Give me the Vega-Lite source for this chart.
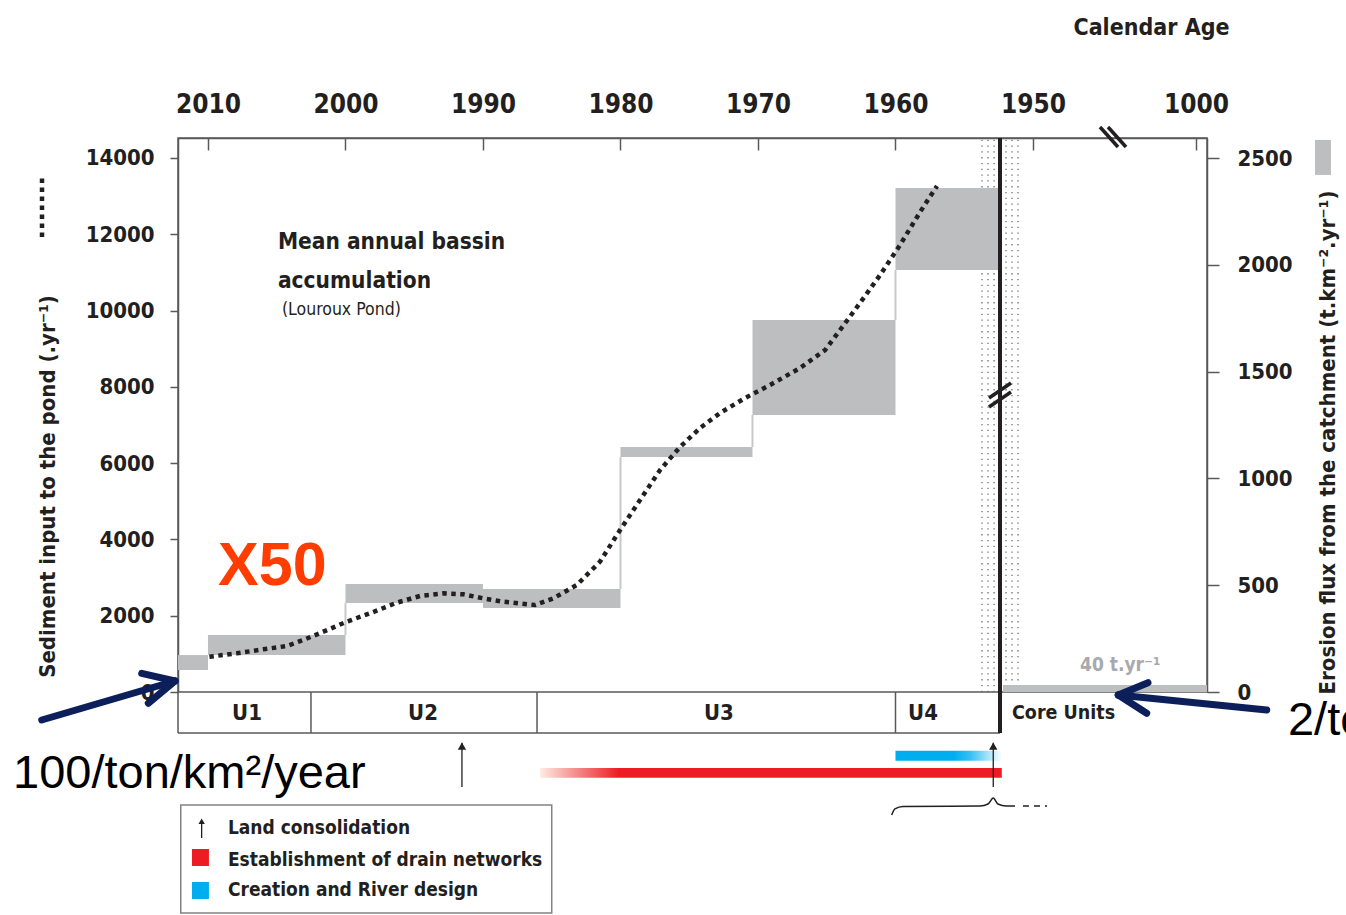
{
  "$schema": "https://vega.github.io/schema/vega-lite/v6.json",
  "width": 1029,
  "height": 554,
  "autosize": {"type": "none"},
  "padding": {"left": 178, "top": 138, "right": 139, "bottom": 223},
  "background": "white",
  "config": {"view": {"stroke": "#58595b", "strokeWidth": 1.5}, "axis": {"grid": false}},
  "encoding": {
    "x": {
      "field": "x", "type": "quantitative",
      "scale": {"domain": [2012.18, 1950, 1000, 990], "range": [0, 855, 1018, 1029], "zero": false, "nice": false},
      "axis": {
        "orient": "top", "values": [2010, 2000, 1990, 1980, 1970, 1960, 1950, 1000], "format": "d",
        "tickSize": -12, "tickWidth": 1.5, "tickColor": "#58595b", "domainColor": "#58595b", "domainWidth": 1.5,
        "labelPadding": 33, "labelFont": "Liberation Sans Narrow, DejaVu Sans Condensed, sans-serif", "labelFontWeight": "bold",
        "labelFontSize": 26, "labelColor": "#231f20", "labelFlush": false, "labelOverlap": false,
        "title": "Calendar Age", "titleFont": "Liberation Sans Narrow, DejaVu Sans Condensed, sans-serif", "titleFontSize": 23,
        "titleFontWeight": "bold", "titleColor": "#231f20", "titleX": 973, "titleY": -111, "titleAlign": "center", "titleBaseline": "middle"
      }
    }
  },
  "resolve": {"scale": {"y": "independent"}, "axis": {"y": "independent"}},
  "layer": [
    {
      "encoding": {
        "y": {
          "field": "y", "type": "quantitative",
          "scale": {"domain": [0, 2594], "zero": false, "nice": false},
          "axis": {
            "orient": "right", "values": [0, 500, 1000, 1500, 2000, 2500], "format": "d",
            "tickSize": 12, "tickWidth": 1.5, "tickColor": "#58595b", "domainColor": "#58595b", "domainWidth": 1.5,
            "labelPadding": 18, "labelFont": "Liberation Sans Narrow, DejaVu Sans Condensed, sans-serif", "labelFontWeight": "bold",
            "labelFontSize": 22, "labelColor": "#231f20", "labelFlush": false,
            "title": "Erosion flux from the catchment (t.km⁻².yr⁻¹)", "titleFont": "Liberation Sans Narrow, DejaVu Sans Condensed, sans-serif",
            "titleFontSize": 22, "titleFontWeight": "bold", "titleColor": "#231f20", "titleAngle": 270,
            "titleX": 120, "titleY": 304, "titleAlign": "center", "titleBaseline": "middle"
          }
        }
      },
      "layer": [
        {
          "data": {"values": [
            {"x": 1953.71, "y": 0, "y2": 2594}, {"x": 1953.27, "y": 0, "y2": 2594}, {"x": 1952.83, "y": 0, "y2": 2594},
            {"x": 1951.96, "y": 0, "y2": 2594}, {"x": 1951.53, "y": 0, "y2": 2594}, {"x": 1951.09, "y": 0, "y2": 2594}
          ]},
          "mark": {"type": "rule", "stroke": "#6d6e71", "strokeWidth": 1.3, "strokeDash": [1.3, 4.5]},
          "encoding": {"y2": {"field": "y2"}}
        },
        {
          "data": {"values": [
            {"x": 2012.18, "x2": 2010, "y": 103, "y2": 173},
            {"x": 2010, "x2": 2000, "y": 173, "y2": 267},
            {"x": 2000, "x2": 1990, "y": 417, "y2": 506},
            {"x": 1990, "x2": 1980, "y": 393, "y2": 482},
            {"x": 1980, "x2": 1970.4, "y": 1100, "y2": 1147},
            {"x": 1970.4, "x2": 1960, "y": 1297, "y2": 1742},
            {"x": 1960, "x2": 1952.4, "y": 1976, "y2": 2360},
            {"x": 1952.18, "x2": 990, "y": 0, "y2": 33},
            {"x": 891.8, "x2": 877.3, "y": 2421, "y2": 2585}
          ]},
          "mark": {"type": "rect", "fill": "#bcbec0"},
          "encoding": {"x2": {"field": "x2"}, "y2": {"field": "y2"}}
        },
        {
          "data": {"values": [
            {"x": 2000, "y": 267, "y2": 417},
            {"x": 1980, "y": 482, "y2": 1100},
            {"x": 1970.4, "y": 1147, "y2": 1297},
            {"x": 1960, "y": 1742, "y2": 1976}
          ]},
          "mark": {"type": "rule", "stroke": "#c7c8ca", "strokeWidth": 2},
          "encoding": {"y2": {"field": "y2"}}
        }
      ]
    },
    {
      "encoding": {
        "y": {
          "field": "y", "type": "quantitative",
          "scale": {"domain": [0, 14524], "zero": false, "nice": false},
          "axis": {
            "orient": "left", "values": [0, 2000, 4000, 6000, 8000, 10000, 12000, 14000], "format": "d",
            "tickSize": 8, "tickWidth": 1.5, "tickColor": "#58595b", "domainColor": "#58595b", "domainWidth": 1.5,
            "labelPadding": 16, "labelFont": "Liberation Sans Narrow, DejaVu Sans Condensed, sans-serif", "labelFontWeight": "bold",
            "labelFontSize": 22, "labelColor": "#231f20", "labelFlush": false,
            "title": "Sediment input to the pond  (.yr⁻¹)", "titleFont": "Liberation Sans Narrow, DejaVu Sans Condensed, sans-serif",
            "titleFontSize": 22, "titleFontWeight": "bold", "titleColor": "#231f20", "titleAngle": 270,
            "titleX": -131, "titleY": 348, "titleAlign": "center", "titleBaseline": "middle"
          }
        }
      },
      "layer": [
        {
          "data": {"values": [
            {"x": 2009.90, "y": 925}, {"x": 2007.91, "y": 1014}, {"x": 2005.98, "y": 1119}, {"x": 2004.27, "y": 1206},
            {"x": 2003.07, "y": 1363}, {"x": 2001.61, "y": 1581}, {"x": 1999.91, "y": 1843}, {"x": 1998.22, "y": 2063},
            {"x": 1996.27, "y": 2341}, {"x": 1994.58, "y": 2517}, {"x": 1992.89, "y": 2587}, {"x": 1991.43, "y": 2561},
            {"x": 1989.98, "y": 2456}, {"x": 1988.52, "y": 2367}, {"x": 1986.22, "y": 2281}, {"x": 1984.88, "y": 2457},
            {"x": 1983.18, "y": 2805}, {"x": 1981.49, "y": 3416}, {"x": 1980.03, "y": 4247}, {"x": 1978.58, "y": 5034},
            {"x": 1977.12, "y": 5820}, {"x": 1975.67, "y": 6423}, {"x": 1974.21, "y": 6921}, {"x": 1972.76, "y": 7315},
            {"x": 1970.94, "y": 7708}, {"x": 1969.12, "y": 8049}, {"x": 1966.94, "y": 8494}, {"x": 1965.12, "y": 8966},
            {"x": 1964.03, "y": 9491}, {"x": 1962.58, "y": 10199}, {"x": 1961.12, "y": 10932}, {"x": 1959.67, "y": 11719},
            {"x": 1958.21, "y": 12584}, {"x": 1956.98, "y": 13266}
          ]},
          "mark": {"type": "line", "stroke": "#231f20", "strokeWidth": 4.5, "strokeDash": [4.5, 4.5]},
          "encoding": {}
        },
        {
          "data": {"values": [{"x": 2022.07, "y": 11929, "y2": 13476}]},
          "mark": {"type": "rule", "stroke": "#231f20", "strokeWidth": 4.5, "strokeDash": [4.5, 4.5]},
          "encoding": {"y2": {"field": "y2"}}
        },
        {
          "data": {"values": [
            {"x": 2012.18, "x2": 1952.4, "y": -1075, "y2": -1075},
            {"x": 2012.18, "x2": 2012.18, "y": 0, "y2": -1075},
            {"x": 2002.51, "x2": 2002.51, "y": 0, "y2": -1075},
            {"x": 1986.07, "x2": 1986.07, "y": 0, "y2": -1075},
            {"x": 1960, "x2": 1960, "y": 0, "y2": -1075}
          ]},
          "mark": {"type": "rule", "stroke": "#58595b", "strokeWidth": 1.5},
          "encoding": {"x2": {"field": "x2"}, "y2": {"field": "y2"}}
        },
        {
          "data": {"values": [{"x": 1952.4, "y": 14524, "y2": -1075}]},
          "mark": {"type": "rule", "stroke": "#231f20", "strokeWidth": 4},
          "encoding": {"y2": {"field": "y2"}}
        },
        {
          "data": {"values": [
            {"x": 1953.2, "y": 7708, "x2": 1951.6, "y2": 8101},
            {"x": 1953.2, "y": 7472, "x2": 1951.6, "y2": 7865},
            {"x": 1559.5, "y": 14813, "x2": 1454.6, "y2": 14289},
            {"x": 1512.9, "y": 14813, "x2": 1407.9, "y2": 14289}
          ]},
          "mark": {"type": "rule", "stroke": "#231f20", "strokeWidth": 3.5},
          "encoding": {"x2": {"field": "x2"}, "y2": {"field": "y2"}}
        },
        {
          "data": {"values": [
            {"x": 2007.16, "y": -551, "t": "U1"}, {"x": 1994.36, "y": -551, "t": "U2"},
            {"x": 1972.85, "y": -551, "t": "U3"}, {"x": 1958.0, "y": -551, "t": "U4"}
          ]},
          "mark": {"type": "text", "font": "Liberation Sans Narrow, DejaVu Sans Condensed, sans-serif", "fontWeight": "bold", "fontSize": 22, "color": "#231f20", "align": "center", "baseline": "middle"},
          "encoding": {"text": {"field": "t"}}
        },
        {
          "data": {"values": [{"x": 1951.53, "y": -551, "t": "Core Units"}]},
          "mark": {"type": "text", "font": "Liberation Sans Narrow, DejaVu Sans Condensed, sans-serif", "fontWeight": "bold", "fontSize": 19.5, "color": "#231f20", "align": "left", "baseline": "middle"},
          "encoding": {"text": {"field": "t"}}
        },
        {
          "data": {"values": [{"x": 1985.85, "x2": 1952.27, "y": -1992, "y2": -2247}]},
          "mark": {"type": "rect", "fill": {"gradient": "linear", "stops": [{"offset": 0, "color": "#fdece4"}, {"offset": 0.17, "color": "#ed1c24"}, {"offset": 1, "color": "#ed1c24"}]}},
          "encoding": {"x2": {"field": "x2"}, "y2": {"field": "y2"}}
        },
        {
          "data": {"values": [{"x": 1960, "x2": 1952.27, "y": -1539, "y2": -1801}]},
          "mark": {"type": "rect", "fill": {"gradient": "linear", "stops": [{"offset": 0, "color": "#00aeef"}, {"offset": 0.55, "color": "#00aeef"}, {"offset": 0.7, "color": "#33c0f2"}, {"offset": 1, "color": "#ffffff"}]}},
          "encoding": {"x2": {"field": "x2"}, "y2": {"field": "y2"}}
        },
        {
          "data": {"values": [
            {"x": 1991.53, "y": -2491, "y2": -1330},
            {"x": 1952.89, "y": -2491, "y2": -1330}
          ]},
          "mark": {"type": "rule", "stroke": "#231f20", "strokeWidth": 1.3},
          "encoding": {"y2": {"field": "y2"}}
        },
        {
          "data": {"values": [{"x": 1991.53, "y": -1420}, {"x": 1952.89, "y": -1420}]},
          "mark": {"type": "point", "shape": "triangle-up", "filled": true, "size": 70, "color": "#231f20", "opacity": 1},
          "encoding": {}
        },
        {
          "data": {"values": [{"x": 2010.46, "y": -3390}]},
          "mark": {"type": "point", "shape": "triangle-up", "filled": true, "size": 40, "color": "#231f20", "opacity": 1},
          "encoding": {}
        },
        {
          "data": {"values": [
            {"x": 1960.28, "y": -3225, "o": 1}, {"x": 1960.04, "y": -3067, "o": 2}, {"x": 1959.46, "y": -3002, "o": 3},
            {"x": 1953.86, "y": -2989, "o": 4}, {"x": 1953.27, "y": -2936, "o": 5}, {"x": 1952.89, "y": -2779, "o": 6},
            {"x": 1952.55, "y": -2936, "o": 7}, {"x": 1951.96, "y": -2989, "o": 8}, {"x": 1951.31, "y": -2989, "o": 9}
          ]},
          "mark": {"type": "line", "stroke": "#231f20", "strokeWidth": 1.5, "interpolate": "monotone"},
          "encoding": {"order": {"field": "o", "type": "quantitative"}}
        },
        {
          "data": {"values": [{"x": 1950.73, "x2": 1868.4, "y": -2989, "y2": -2989}]},
          "mark": {"type": "rule", "stroke": "#231f20", "strokeWidth": 1.5, "strokeDash": [6, 5]},
          "encoding": {"x2": {"field": "x2"}, "y2": {"field": "y2"}}
        },
        {
          "data": {"values": [{"x": 2011.98, "x2": 1985.0, "y": -2963, "y2": -5794}]},
          "mark": {"type": "rect", "fill": "white", "fillOpacity": 0, "stroke": "#808285", "strokeWidth": 1.5},
          "encoding": {"x2": {"field": "x2"}, "y2": {"field": "y2"}}
        },
        {
          "data": {"values": [{"x": 2010.46, "y": -3828, "y2": -3420}]},
          "mark": {"type": "rule", "stroke": "#231f20", "strokeWidth": 1.3},
          "encoding": {"y2": {"field": "y2"}}
        },
        {
          "data": {"values": [{"x": 2011.16, "x2": 2009.93, "y": -4116, "y2": -4562}]},
          "mark": {"type": "rect", "fill": "#ed1c24"},
          "encoding": {"x2": {"field": "x2"}, "y2": {"field": "y2"}}
        },
        {
          "data": {"values": [{"x": 2011.16, "x2": 2009.93, "y": -4981, "y2": -5427}]},
          "mark": {"type": "rect", "fill": "#00aeef"},
          "encoding": {"x2": {"field": "x2"}, "y2": {"field": "y2"}}
        },
        {
          "data": {"values": [
            {"x": 2008.55, "y": -3566, "t": "Land consolidation"},
            {"x": 2008.55, "y": -4405, "t": "Establishment of drain networks"},
            {"x": 2008.55, "y": -5191, "t": "Creation and River design"}
          ]},
          "mark": {"type": "text", "font": "Liberation Sans Narrow, DejaVu Sans Condensed, sans-serif", "fontWeight": "bold", "fontSize": 19, "color": "#231f20", "align": "left", "baseline": "middle"},
          "encoding": {"text": {"field": "t"}}
        },
        {
          "data": {"values": [
            {"x": 2004.91, "y": 11614, "t": "Mean annual bassin"},
            {"x": 2004.91, "y": 10592, "t": "accumulation"}
          ]},
          "mark": {"type": "text", "font": "Liberation Sans Narrow, DejaVu Sans Condensed, sans-serif", "fontWeight": "bold", "fontSize": 22.5, "color": "#231f20", "align": "left", "baseline": "alphabetic"},
          "encoding": {"text": {"field": "t"}}
        },
        {
          "data": {"values": [{"x": 2004.62, "y": 9884, "t": "(Louroux Pond)"}]},
          "mark": {"type": "text", "font": "Liberation Sans Narrow, DejaVu Sans Condensed, sans-serif", "fontSize": 17.5, "color": "#231f20", "align": "left", "baseline": "alphabetic"},
          "encoding": {"text": {"field": "t"}}
        },
        {
          "data": {"values": [{"x": 1676.1, "y": 708, "t": "40 t.yr⁻¹"}]},
          "mark": {"type": "text", "font": "Liberation Sans Narrow, DejaVu Sans Condensed, sans-serif", "fontWeight": "bold", "fontSize": 19, "color": "#a7a9ac", "align": "left", "baseline": "middle"},
          "encoding": {"text": {"field": "t"}}
        },
        {
          "data": {"values": [{"x": 2009.27, "y": 2805, "t": "X50"}]},
          "mark": {"type": "text", "font": "Liberation Sans, Arial, sans-serif", "fontWeight": "bold", "fontSize": 61, "color": "#ff3d00", "align": "left", "baseline": "alphabetic"},
          "encoding": {"text": {"field": "t"}}
        },
        {
          "data": {"values": [
            {"x": 2024.18, "y": -2517, "t": "100/ton/km²/year"},
            {"x": 916.4, "y": -1127, "t": "2/ton/km²/year"}
          ]},
          "mark": {"type": "text", "font": "Liberation Sans, Arial, sans-serif", "fontSize": 47, "color": "#000000", "align": "left", "baseline": "alphabetic"},
          "encoding": {"text": {"field": "t"}}
        },
        {
          "data": {"values": [
            {"x": 2022.09, "y": -734, "x2": 2012.40, "y2": 288},
            {"x": 2012.40, "y": 288, "x2": 2014.82, "y2": 490},
            {"x": 2012.40, "y": 288, "x2": 2014.34, "y2": -296},
            {"x": 935.7, "y": -472, "x2": 1452.9, "y2": -79},
            {"x": 1452.9, "y": -79, "x2": 1279.8, "y2": 244},
            {"x": 1452.9, "y": -79, "x2": 1287.3, "y2": -558}
          ]},
          "mark": {"type": "rule", "stroke": "#0c1f5b", "strokeWidth": 7, "strokeCap": "round"},
          "encoding": {"x2": {"field": "x2"}, "y2": {"field": "y2"}}
        }
      ]
    }
  ]
}
